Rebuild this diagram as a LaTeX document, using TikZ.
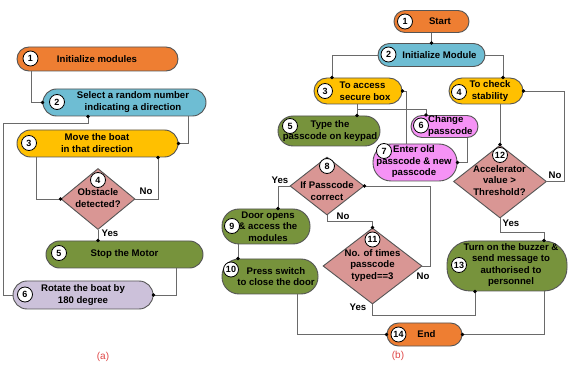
\documentclass[tikz,border=0pt]{standalone}
\usepackage{fontspec}
\setmainfont{Liberation Sans}
\usetikzlibrary{shapes.geometric,arrows.meta,calc}
\definecolor{corange}{HTML}{EE7E32}
\definecolor{cblue}{HTML}{6EBDD3}
\definecolor{cyellow}{HTML}{FFC000}
\definecolor{cgreen}{HTML}{77933C}
\definecolor{clav}{HTML}{CCC1DA}
\definecolor{cpink}{HTML}{F592F5}
\definecolor{csalmon}{HTML}{D99694}
\definecolor{cbord}{HTML}{555555}
\definecolor{cline}{HTML}{6A6A6A}
\definecolor{cred}{HTML}{E04545}
\begin{document}
\begin{tikzpicture}[x=1pt,y=-1pt,
  pill/.style={draw=cbord,line width=0.9pt,rectangle,inner sep=0pt,rounded corners=#1},
  pill/.default=12pt,
  dia/.style={draw=cbord,line width=0.9pt,diamond,inner sep=0pt,fill=csalmon},
  txt/.style={font=\fontsize{9.6}{11.5}\selectfont\bfseries,align=center,inner sep=0pt},
  badge/.style={circle,draw=black,fill=white,line width=0.8pt,minimum size=15pt,inner sep=0pt,font=\fontsize{9}{9}\selectfont\bfseries},
  conn/.style={draw=cline,line width=0.9pt},
  dotend/.style={-{Circle[length=3.4pt,color=black]},shorten >=-1.7pt},
  dotstart/.style={{Circle[length=3.4pt,color=black]}-,shorten <=-1.7pt},
  lbl/.style={font=\fontsize{9.6}{11.5}\selectfont\bfseries,inner sep=0pt},
  captxt/.style={font=\fontsize{10}{12}\selectfont,text=cred,inner sep=0pt}
]
\useasboundingbox[fill=white] (0,0) rectangle (568,366);

% ---------------- panel (a) ----------------
\node[pill,fill=corange,minimum width=161pt,minimum height=24pt] (a1) at (97.5,59) {};
\node[pill=13.5pt,fill=cblue,minimum width=163pt,minimum height=27pt] (a2) at (124.5,102.5) {};
\node[pill=13.5pt,fill=cyellow,minimum width=161pt,minimum height=27pt] (a3) at (97.5,143.5) {};
\node[dia,minimum width=74pt,minimum height=61pt] (a4) at (98,199) {};
\node[pill=13.5pt,fill=cgreen,minimum width=157pt,minimum height=27pt] (a5) at (124.5,254.5) {};
\node[pill=14pt,fill=clav,minimum width=140pt,minimum height=28pt] (a6) at (83,295) {};

% connectors (a)
\draw[conn,dotend] (a1.south -| 31,0) |- (a2.west);
\draw[conn,dotend] (a2.south -| 188,0) |- (a3.east);
\coordinate (ab1) at (88,123);
\coordinate (ab2) at (3,123);
\draw[conn,dotstart] (a2.south -| 88,0) -- (ab1) -- (ab2) |- (a6.west);
\draw[conn,dotend] (a3.south -| 36,0) |- (a4.west);
\draw[conn,dotend] (a4.east) -| (a3.south -| 158,0);
\draw[conn,dotend] (a4.south) -- (a4.south |- a5.north);
\draw[conn,dotend] (a5.south -| 176,0) |- (a6.east);

% texts (a)
\node[txt] (a1t) at (97,59) {Initialize modules};
\node[txt] (a2t) at (133,102) {Select a random number\\indicating a direction};
\node[txt] (a3t) at (97,143) {Move the boat\\in that direction};
\node[txt] (a4t) at (98,198) {Obstacle\\detected?};
\node[txt] (a5t) at (124.5,254.5) {Stop the Motor};
\node[txt] (a6t) at (83,295) {Rotate the boat by\\180 degree};

\node[badge] (a1n) at (30.5,58.5) {1};
\node[badge] (a2n) at (57,102) {2};
\node[badge] (a3n) at (29,143) {3};
\node[badge] (a4n) at (98,180) {4};
\node[badge] (a5n) at (59,253) {5};
\node[badge] (a6n) at (25,294.5) {6};

\node[lbl] (aNo) at (146,191) {No};
\node[lbl] (aYes) at (110,233) {Yes};
\node[captxt] (capa) at (103,357) {(a)};

% ---------------- panel (b) ----------------
\node[pill=11pt,fill=corange,minimum width=75pt,minimum height=22pt] (b1) at (431.5,21.5) {};
\node[pill=11.5pt,fill=cblue,minimum width=107pt,minimum height=23pt] (b2) at (431.5,55) {};
\node[pill=13pt,fill=cyellow,minimum width=88pt,minimum height=26pt] (b3) at (358,91) {};
\node[pill=13pt,fill=cyellow,minimum width=74pt,minimum height=26pt] (b4) at (486,91) {};
\node[pill=15pt,fill=cgreen,minimum width=102pt,minimum height=30pt] (b5) at (329,131) {};
\node[pill=11pt,fill=cpink,minimum width=67pt,minimum height=22pt] (b6) at (444.5,126.5) {};
\node[pill=18pt,fill=cpink,minimum width=84pt,minimum height=37pt] (b7) at (415,162.5) {};
\node[dia,minimum width=74pt,minimum height=58pt] (b8) at (327,186) {};
\node[pill=17pt,fill=cgreen,minimum width=88pt,minimum height=35pt] (b9) at (266,226.5) {};
\node[pill=17pt,fill=cgreen,minimum width=96pt,minimum height=35pt] (b10) at (270,276.5) {};
\node[dia,minimum width=99pt,minimum height=76pt] (b11) at (372.5,266) {};
\node[dia,minimum width=93pt,minimum height=73pt] (b12) at (500,181.5) {};
\node[pill=23pt,fill=cgreen,minimum width=120pt,minimum height=50pt] (b13) at (507,266) {};
\node[pill=11.5pt,fill=corange,minimum width=75pt,minimum height=23pt] (b14) at (424.5,334.5) {};

% connectors (b)
\draw[conn,dotend] (b1.south) -- (b1.south |- b2.north);
\draw[conn,dotend] (b2.west) -| (b3.north -| 332,0);
\draw[conn,dotend] (b2.east) -| (b4.north -| 503,0);
\draw[conn,dotend] (b3.south -| 357,0) -- (b5.north -| 357,0);
\coordinate (bb1) at (357,109);
\draw[conn,dotend] (b3.south -| 357,0) -- (bb1) -| (b6.north -| 426,0);
\draw[conn,dotend] (b6.south -| 467,0) |- (b7.east);
\draw[conn,dotend] (b7.north -| 406,0) |- (b3.east);
\draw[conn,dotend] (b8.west) -| (b9.north -| 278,0);
\coordinate (bb2) at (430,266);
\draw[conn,dotend] (b11.east) -- (bb2) |- (b8.east);
\coordinate (bb3) at (327,221);
\draw[conn,dotend] (b8.south) -- (bb3) -| (b11.north);
\draw[conn,dotend] (b9.south -| 238,0) -- (b10.north -| 238,0);
\draw[conn,dotend] (b10.south -| 297,0) |- (b14.west);
\coordinate (bb4) at (372.5,315);
\draw[conn,dotend] (b11.south) -- (bb4) -| (b13.south -| 475,0);
\draw[conn,dotend] (b13.south -| 544,0) |- (b14.east);
\draw[conn,dotend] (b4.south -| 500,0) -- (b12.north);
\coordinate (bb5) at (564,181.5);
\draw[conn,dotend] (b12.east) -- (bb5) |- (b4.east);
\coordinate (bb6) at (500,232);
\draw[conn,dotend] (b12.south) -- (bb6) -| (b13.north -| 544,0);

% texts (b)
\node[txt] (b1t) at (440,21.5) {Start};
\node[txt] (b2t) at (439.5,55) {Initialize Module};
\node[txt,align=left,anchor=west] (b3t) at (339.5,91) {To access\\secure box};
\node[txt] (b4t) at (490,91) {To check\\stability};
\node[txt] (b5t) at (330,131) {Type the\\passcode on keypad};
\node[txt,align=left,anchor=west] (b6t) at (428,126) {Change\\passcode};
\node[txt] (b7t) at (414,162) {Enter old\\passcode \& new\\passcode};
\node[txt] (b8t) at (327,191) {If Passcode\\correct};
\node[txt] (b9t) at (268,226.5) {Door opens\\\& access the\\modules};
\node[txt] (b10t) at (276,276.5) {Press switch\\to close the door};
\node[txt] (b11t) at (372.5,265.5) {No. of times\\passcode\\typed==3};
\node[txt] (b12t) at (499.5,180.5) {Accelerator\\value >\\Threshold?};
\node[txt] (b13t) at (511,265) {Turn on the buzzer \&\\send message to\\authorised to\\personnel};
\node[txt] (b14t) at (426.5,334.5) {End};

\node[badge] (b1n) at (405,21.5) {1};
\node[badge] (b2n) at (388.5,54.5) {2};
\node[badge] (b3n) at (325,91) {3};
\node[badge] (b4n) at (459,92) {4};
\node[badge] (b5n) at (290,126) {5};
\node[badge] (b6n) at (421,125.5) {6};
\node[badge] (b7n) at (384,151) {7};
\node[badge] (b8n) at (327,166) {8};
\node[badge] (b9n) at (232,226) {9};
\node[badge] (b10n) at (231,269.5) {10};
\node[badge] (b11n) at (372.5,239.5) {11};
\node[badge] (b12n) at (500,155) {12};
\node[badge] (b13n) at (459,265) {13};
\node[badge] (b14n) at (398.5,334.5) {14};

\node[lbl] (bYes1) at (280,180) {Yes};
\node[lbl] (bNo1) at (343,216) {No};
\node[lbl] (bNo2) at (423,276) {No};
\node[lbl] (bYes2) at (358,307) {Yes};
\node[lbl] (bNo3) at (555,175) {No};
\node[lbl] (bYes3) at (511,223) {Yes};
\node[captxt] (capb) at (398,356) {(b)};
\end{tikzpicture}
\end{document}
